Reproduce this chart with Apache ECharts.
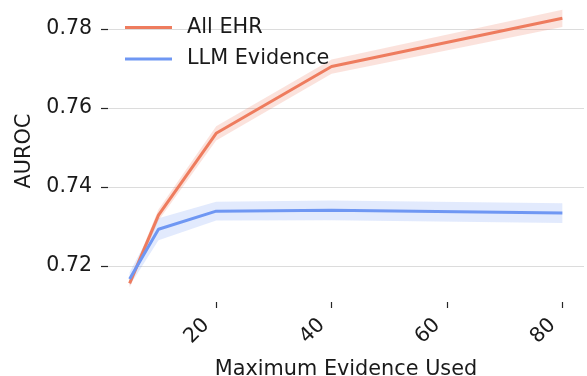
<!DOCTYPE html>
<html><head><meta charset="utf-8">
<script src="https://cdn.jsdelivr.net/npm/echarts@6/dist/echarts.min.js"></script>
<style>html,body{margin:0;padding:0;background:#fff}#c{width:587px;height:376px}</style>
</head><body><div id="c"></div>
<script>
const xValues = [5, 10, 20, 40, 80];
const allEhrMean = [0.7156, 0.7329, 0.7536, 0.7705, 0.7827];
const allEhrLow  = [0.7146, 0.7315, 0.7518, 0.7687, 0.7805];
const allEhrHigh = [0.7166, 0.7343, 0.7554, 0.7723, 0.7849];
const llmMean = [0.7167, 0.7293, 0.7339, 0.7341, 0.7334];
const llmLow  = [0.7150, 0.7265, 0.7315, 0.7316, 0.7309];
const llmHigh = [0.7184, 0.7321, 0.7363, 0.7366, 0.7359];
const xTicks = [20, 40, 60, 80];
const yTicks = [0.72, 0.74, 0.76, 0.78];
const seriesNames = ['All EHR', 'LLM Evidence'];

const FONT = 'DejaVu Sans';
const TXT = '#1a1a1a';
const ORANGE = '#ee7c5e';
const BLUE = '#6f97f3';
const ORANGE_BAND = 'rgba(238,124,94,0.22)';
const BLUE_BAND = 'rgba(111,151,243,0.2)';

const pairs = (ys) => xValues.map((x, i) => [x, ys[i]]);

function band(name, lo, hi, color) {
  return {
    type: 'custom', name: name, silent: true, z: 1,
    data: xValues.map((x, i) => [x, lo[i], hi[i]]),
    encode: { x: 0, y: [1, 2] },
    renderItem: function (params, api) {
      if (params.dataIndex !== 0) return null;
      const top = xValues.map((x, i) => api.coord([x, hi[i]]));
      const bot = xValues.map((x, i) => api.coord([x, lo[i]])).reverse();
      return { type: 'polygon', shape: { points: top.concat(bot) }, style: { fill: color } };
    }
  };
}

const chart = echarts.init(document.getElementById('c'), null, { renderer: 'canvas' });
chart.setOption({
  animation: false,
  backgroundColor: '#fff',
  textStyle: { fontFamily: FONT },
  grid: { left: 108, right: 3, top: 0, bottom: 74, containLabel: false, outerBoundsMode: 'none' },
  legend: {
    data: [
      { name: seriesNames[0], icon: 'rect', itemStyle: { color: ORANGE } },
      { name: seriesNames[1], icon: 'rect', itemStyle: { color: BLUE } }
    ],
    orient: 'vertical', left: 125, top: 17, padding: 0,
    itemWidth: 47, itemHeight: 3, itemGap: 10.5,
    textStyle: { fontFamily: FONT, fontSize: 20.8, color: TXT, lineHeight: 21, padding: [0, 0, 0, 10] }
  },
  xAxis: {
    type: 'value', min: 1.25, max: 83.75,
    name: 'Maximum Evidence Used', nameLocation: 'middle', nameGap: 57,
    nameTextStyle: { fontFamily: FONT, fontSize: 20.8, color: TXT },
    axisLine: { show: false },
    axisTick: { show: true, length: 6, lineStyle: { color: '#262626', width: 1.2 }, customValues: xTicks },
    axisLabel: { rotate: 45, margin: 10, padding: [0, 14, 0, 0], fontFamily: FONT, fontSize: 20.5, color: TXT, customValues: xTicks },
    splitLine: { show: false }
  },
  yAxis: {
    type: 'value', min: 0.7109, max: 0.78734,
    name: 'AUROC', nameLocation: 'middle', nameGap: 68,
    nameTextStyle: { fontFamily: FONT, fontSize: 20.8, color: TXT },
    axisLine: { show: false },
    axisTick: { show: true, length: 7, lineStyle: { color: '#262626', width: 1.2 }, customValues: yTicks },
    axisLabel: { margin: 16, fontFamily: FONT, fontSize: 20.5, color: TXT, customValues: yTicks,
      formatter: (v) => v.toFixed(2) },
    splitLine: { show: true, lineStyle: { color: '#dcdcdc', width: 1.2 } }
  },
  series: [
    band('ehrBand', allEhrLow, allEhrHigh, ORANGE_BAND),
    band('llmBand', llmLow, llmHigh, BLUE_BAND),
    { type: 'line', name: seriesNames[0], data: pairs(allEhrMean), symbol: 'none',
      itemStyle: { color: ORANGE }, lineStyle: { color: ORANGE, width: 3 }, z: 3 },
    { type: 'line', name: seriesNames[1], data: pairs(llmMean), symbol: 'none',
      itemStyle: { color: BLUE }, lineStyle: { color: BLUE, width: 3 }, z: 3 }
  ]
});
</script>
</body></html>
